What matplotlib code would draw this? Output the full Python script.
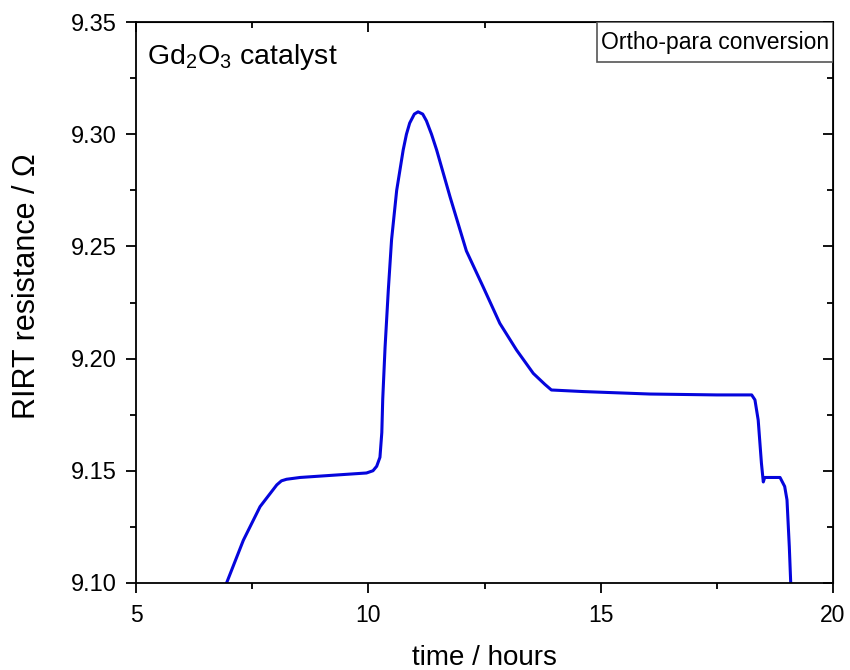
import matplotlib
matplotlib.use("Agg")
from matplotlib import pyplot as plt
from matplotlib.ticker import MultipleLocator
from matplotlib.patches import Rectangle

plt.rcParams['font.family'] = ['Liberation Sans', 'DejaVu Sans']
plt.rcParams['mathtext.fontset'] = 'custom'
plt.rcParams['mathtext.rm'] = 'Liberation Sans'
plt.rcParams['mathtext.it'] = 'Liberation Sans'
plt.rcParams['mathtext.default'] = 'regular'

# values
time_h = [6.95, 7.31, 7.67, 8.03, 8.13, 8.24, 8.53, 9.24, 9.96, 10.10, 10.18,
          10.25, 10.29, 10.31, 10.36, 10.43, 10.50, 10.61, 10.75, 10.82, 10.89,
          10.99, 11.07, 11.17, 11.25, 11.36, 11.47, 11.76, 12.11, 12.47, 12.83,
          13.19, 13.55, 13.80, 13.94, 14.62, 16.06, 17.5, 18.25, 18.32, 18.39,
          18.46, 18.50, 18.53, 18.86, 18.96, 19.01, 19.06, 19.09]
rirt = [9.100, 9.119, 9.134, 9.1437, 9.1455, 9.1462, 9.147, 9.148, 9.149,
        9.150, 9.152, 9.156, 9.167, 9.182, 9.205, 9.2306, 9.253, 9.275, 9.293,
        9.300, 9.305, 9.309, 9.310, 9.309, 9.306, 9.300, 9.293, 9.272, 9.248,
        9.232, 9.2157, 9.2038, 9.1934, 9.1885, 9.186, 9.1853, 9.1842, 9.1838,
        9.1838, 9.1816, 9.1726, 9.1533, 9.145, 9.147, 9.147, 9.143, 9.137,
        9.116, 9.100]

fig = plt.figure(figsize=(8.5, 6.7), dpi=100)
ax = fig.add_axes([0.160, 0.130, 0.820, 0.837])

ax.plot(time_h, rirt, color='#0505dc', lw=2.2)

ax.set_xlim(5, 20)
ax.set_ylim(9.10, 9.35)
ax.xaxis.set_major_locator(MultipleLocator(5))
ax.xaxis.set_minor_locator(MultipleLocator(2.5))
ax.yaxis.set_major_locator(MultipleLocator(0.05))
ax.yaxis.set_minor_locator(MultipleLocator(0.025))
ax.set_yticklabels([f'{v:.2f}' for v in ax.get_yticks()])

ax.tick_params(which='both', direction='out', width=1.3)
ax.tick_params(axis='x', labelsize=16.5, pad=8)
ax.tick_params(axis='y', labelsize=17, pad=7)
ax.tick_params(which='major', length=7)
ax.tick_params(which='minor', length=4)
for s in ax.spines.values():
    s.set_linewidth(1.3)

# inward ticks on top and right
sec_x = ax.secondary_xaxis('top')
sec_x.xaxis.set_major_locator(MultipleLocator(5))
sec_x.xaxis.set_minor_locator(MultipleLocator(2.5))
sec_x.tick_params(which='both', direction='in', labeltop=False, width=1.3)
sec_x.tick_params(which='major', length=7)
sec_x.tick_params(which='minor', length=4)
sec_y = ax.secondary_yaxis('right')
sec_y.yaxis.set_major_locator(MultipleLocator(0.05))
sec_y.yaxis.set_minor_locator(MultipleLocator(0.025))
sec_y.tick_params(which='both', direction='in', labelright=False, width=1.3)
sec_y.tick_params(which='major', length=7)
sec_y.tick_params(which='minor', length=4)

ax.set_xlabel('time / hours', fontsize=20, labelpad=13)
ax.set_ylabel('RIRT resistance / Ω', fontsize=22)
ax.yaxis.set_label_coords(-0.135, 0.529)

ax.text(0.016, 0.965, 'Gd$_2$O$_3$ catalyst', transform=ax.transAxes,
        fontsize=20.5, va='top', ha='left')
ax.add_patch(Rectangle((0.661, 0.929), 0.339, 0.071, transform=ax.transAxes,
                       fc='white', ec='#555555', lw=1.2, zorder=3))
ax.text(0.8305, 0.9645, 'Ortho-para conversion', transform=ax.transAxes,
        fontsize=16.5, va='center', ha='center', zorder=4)

fig.savefig('out.png', dpi=100)
